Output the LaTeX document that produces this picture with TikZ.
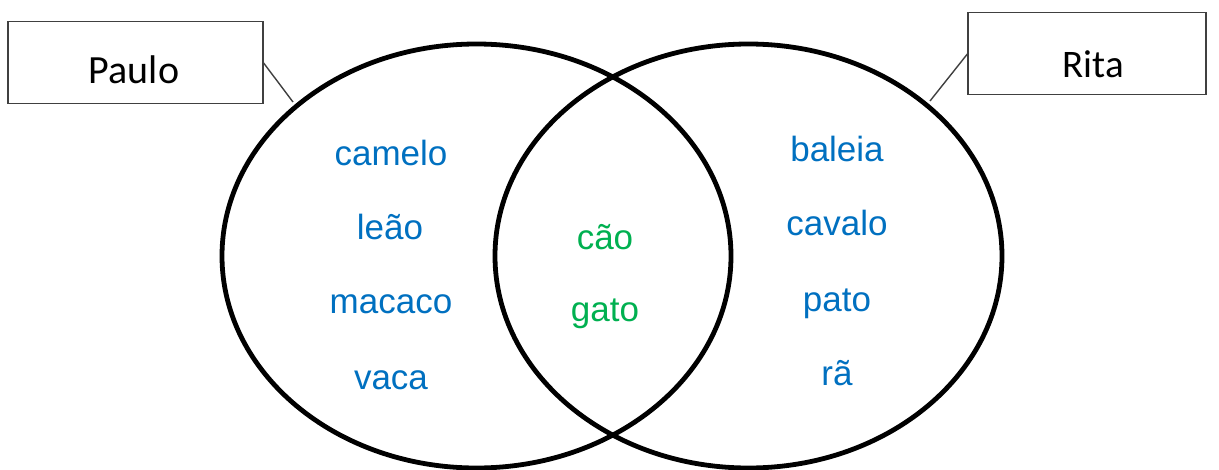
\documentclass[tikz,border=0pt]{standalone}
\usepackage{fontspec}
\setmainfont{Liberation Sans}
\newfontfamily\boxfont{Carlito}
\definecolor{wblue}{HTML}{0070C0}
\definecolor{wgreen}{HTML}{00B050}
\tikzset{
  venn/.style={draw=black, line width=4.8pt},
  namebox/.style={draw=black!75, line width=1.3pt, fill=white, minimum width=#1, inner sep=0pt, font=\boxfont\fontsize{40}{40}\selectfont},
  tag/.style={draw=black!75, line width=1.4pt},
  animal/.style={anchor=base, inner sep=0pt, text=wblue, font=\fontsize{35}{35}\selectfont},
  shared/.style={animal, text=wgreen}
}
\begin{document}
\begin{tikzpicture}[x=1pt,y=-1pt]
\useasboundingbox (0,0) rectangle (1219,469);
\draw[venn] (476.5,256) ellipse [x radius=254.5, y radius=212];
\draw[venn] (748.5,256) ellipse [x radius=253.5, y radius=212];
\coordinate (lp) at (293,102);
\coordinate (rp) at (930,101);
\node[namebox=255pt, minimum height=82pt] (paulo) at (135.5,62.5) {};
\node[namebox=238pt, minimum height=82pt] (rita) at (1087,53.5) {};
\node[anchor=base, inner sep=0pt, font=\boxfont\fontsize{40}{40}\selectfont] (pl) at (134,83) {Paulo};
\node[anchor=base, inner sep=0pt, font=\boxfont\fontsize{39}{39}\selectfont] (rl) at (1093,77) {Rita};
\draw[tag] (paulo.east |- 0,63) -- (lp);
\draw[tag] (rita.west |- 0,54) -- (rp);
\node[animal] (a1) at (391,165) {camelo};
\node[animal] (a2) at (390,239) {leão};
\node[animal] (a3) at (391,313) {macaco};
\node[animal] (a4) at (391,389) {vaca};
\node[shared] (s1) at (605,249) {cão};
\node[shared] (s2) at (605,321) {gato};
\node[animal] (b1) at (837,161) {baleia};
\node[animal] (b2) at (837,235) {cavalo};
\node[animal] (b3) at (837,311) {pato};
\node[animal] (b4) at (837,385) {rã};
\end{tikzpicture}
\end{document}
